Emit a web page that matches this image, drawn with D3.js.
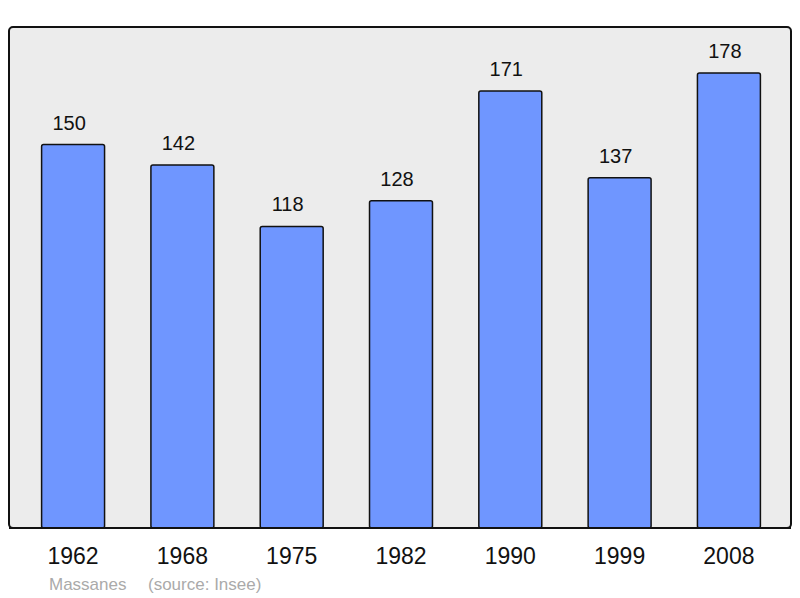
<!DOCTYPE html>
<html>
<head>
<meta charset="utf-8">
<script src="https://cdn.jsdelivr.net/npm/d3@7"></script>
<style>
  body { margin: 0; background: #fff; }
  text { font-family: "Liberation Sans", Arial, sans-serif; }
</style>
</head>
<body>
<div id="chart"></div>
<script>
var years = ["1962", "1968", "1975", "1982", "1990", "1999", "2008"];
var population = [150, 142, 118, 128, 171, 137, 178];
var place = "Massanes";
var source = "(source: Insee)";

var width = 800;
var height = 598;
var plot = {left: 9, right: 791, top: 27, bottom: 528};

var svg = d3.select("#chart")
    .append("svg")
    .attr("width", width)
    .attr("height", height);

svg.append("rect")
    .attr("x", plot.left)
    .attr("y", plot.top)
    .attr("width", plot.right - plot.left)
    .attr("height", plot.bottom - plot.top)
    .attr("rx", 4)
    .attr("fill", "#ececec")
    .attr("stroke", "#111")
    .attr("stroke-width", 2);

var x = d3.scaleBand()
    .domain(years)
    .range([11, plot.right])
    .paddingInner(0.424)
    .paddingOuter(0.28);

var y = d3.scaleLinear()
    .domain([0, 196])
    .range([plot.bottom, plot.top]);

var data = years.map(function(d, i) { return {year: d, value: population[i]}; });

svg.selectAll(".bar")
    .data(data)
    .enter().append("rect")
    .attr("class", "bar")
    .attr("x", function(d) { return x(d.year); })
    .attr("y", function(d) { return y(d.value); })
    .attr("width", x.bandwidth())
    .attr("height", function(d) { return plot.bottom - y(d.value); })
    .attr("rx", 2)
    .attr("fill", "#6f96ff")
    .attr("stroke", "#111")
    .attr("stroke-width", 1.5);

// redraw the bottom edge over the bars
svg.append("line")
    .attr("x1", plot.left)
    .attr("x2", plot.right)
    .attr("y1", plot.bottom)
    .attr("y2", plot.bottom)
    .attr("stroke", "#111")
    .attr("stroke-width", 2);

// value labels sit a little left of the bar centre
svg.selectAll(".val")
    .data(data)
    .enter().append("text")
    .attr("class", "val")
    .attr("x", function(d) { return x(d.year) + x.bandwidth() / 2 - 4; })
    .attr("y", function(d) { return y(d.value) - 15; })
    .attr("text-anchor", "middle")
    .attr("font-size", 20)
    .attr("fill", "#111")
    .text(function(d) { return d.value; });

svg.selectAll(".year")
    .data(years)
    .enter().append("text")
    .attr("class", "year")
    .attr("x", function(d) { return x(d) + x.bandwidth() / 2; })
    .attr("y", 564)
    .attr("text-anchor", "middle")
    .attr("font-size", 23)
    .attr("fill", "#111")
    .text(function(d) { return d; });

svg.append("text")
    .attr("x", 49)
    .attr("y", 590)
    .attr("font-size", 17)
    .attr("fill", "#aaa")
    .text(place);

svg.append("text")
    .attr("x", 148)
    .attr("y", 590)
    .attr("font-size", 17)
    .attr("fill", "#aaa")
    .text(source);
</script>
</body>
</html>
